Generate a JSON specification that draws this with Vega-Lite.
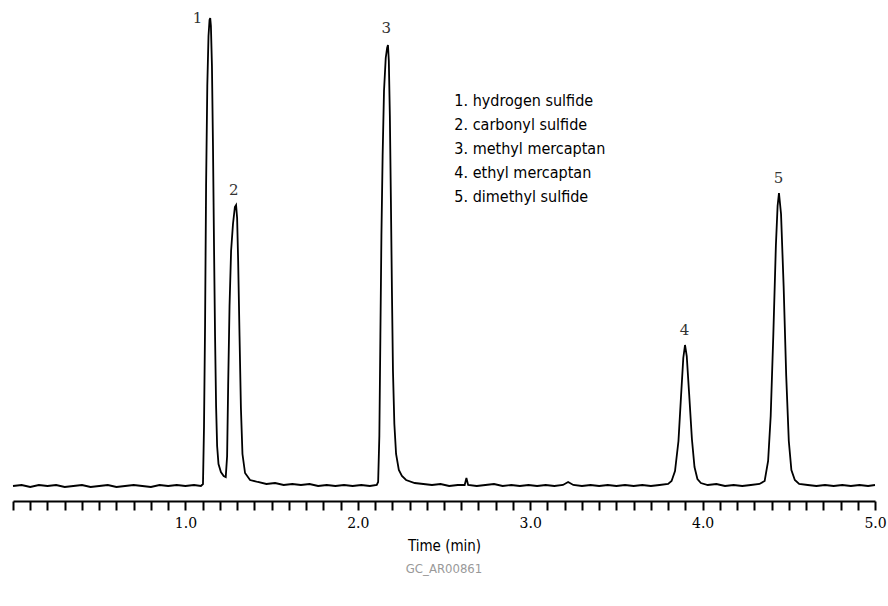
{
  "$schema": "https://vega.github.io/schema/vega-lite/v6.json",
  "autosize": "none",
  "width": 862,
  "height": 501,
  "padding": {"left": 13, "top": 0, "right": 13, "bottom": 105},
  "background": "white",
  "config": {"view": {"stroke": null}},
  "layer": [
    {
      "data": {"values": [
        {"t": 0.0, "h": 0}, {"t": 0.05, "h": 1}, {"t": 0.1, "h": -1}, {"t": 0.15, "h": 1}, {"t": 0.2, "h": 0},
        {"t": 0.25, "h": 1}, {"t": 0.3, "h": -1}, {"t": 0.35, "h": 0}, {"t": 0.4, "h": 1}, {"t": 0.45, "h": -1},
        {"t": 0.5, "h": 0}, {"t": 0.55, "h": 1}, {"t": 0.6, "h": -1}, {"t": 0.65, "h": 0}, {"t": 0.7, "h": 1},
        {"t": 0.75, "h": 0}, {"t": 0.8, "h": -1}, {"t": 0.85, "h": 1}, {"t": 0.9, "h": 0}, {"t": 0.95, "h": 1},
        {"t": 1.0, "h": 0}, {"t": 1.05, "h": 1}, {"t": 1.09, "h": 0}, {"t": 1.102, "h": 2},
        {"t": 1.108, "h": 60}, {"t": 1.114, "h": 160}, {"t": 1.12, "h": 300}, {"t": 1.127, "h": 400},
        {"t": 1.134, "h": 450}, {"t": 1.14, "h": 466}, {"t": 1.144, "h": 468}, {"t": 1.148, "h": 460},
        {"t": 1.154, "h": 420}, {"t": 1.16, "h": 340}, {"t": 1.166, "h": 240}, {"t": 1.172, "h": 150},
        {"t": 1.178, "h": 80}, {"t": 1.184, "h": 40}, {"t": 1.192, "h": 22}, {"t": 1.206, "h": 14},
        {"t": 1.222, "h": 10}, {"t": 1.234, "h": 9}, {"t": 1.242, "h": 30}, {"t": 1.248, "h": 100},
        {"t": 1.256, "h": 180}, {"t": 1.265, "h": 235}, {"t": 1.276, "h": 262}, {"t": 1.287, "h": 279},
        {"t": 1.294, "h": 281}, {"t": 1.3, "h": 268}, {"t": 1.306, "h": 225}, {"t": 1.314, "h": 150},
        {"t": 1.322, "h": 78}, {"t": 1.331, "h": 32}, {"t": 1.346, "h": 13}, {"t": 1.375, "h": 6},
        {"t": 1.42, "h": 4}, {"t": 1.47, "h": 2}, {"t": 1.52, "h": 3}, {"t": 1.57, "h": 1}, {"t": 1.62, "h": 2},
        {"t": 1.67, "h": 1}, {"t": 1.72, "h": 2}, {"t": 1.77, "h": 0}, {"t": 1.82, "h": 1}, {"t": 1.87, "h": 0},
        {"t": 1.92, "h": 1}, {"t": 1.97, "h": 0}, {"t": 2.02, "h": 1}, {"t": 2.07, "h": 0}, {"t": 2.11, "h": 1},
        {"t": 2.118, "h": 4}, {"t": 2.125, "h": 50}, {"t": 2.131, "h": 150}, {"t": 2.137, "h": 250},
        {"t": 2.144, "h": 330}, {"t": 2.152, "h": 395}, {"t": 2.162, "h": 428}, {"t": 2.17, "h": 438},
        {"t": 2.175, "h": 441}, {"t": 2.18, "h": 425}, {"t": 2.186, "h": 370}, {"t": 2.192, "h": 285},
        {"t": 2.198, "h": 195}, {"t": 2.204, "h": 115}, {"t": 2.212, "h": 62}, {"t": 2.222, "h": 32},
        {"t": 2.238, "h": 16}, {"t": 2.256, "h": 10}, {"t": 2.28, "h": 6}, {"t": 2.33, "h": 3},
        {"t": 2.38, "h": 2}, {"t": 2.43, "h": 1}, {"t": 2.48, "h": 2}, {"t": 2.53, "h": 0}, {"t": 2.58, "h": 1},
        {"t": 2.62, "h": 1}, {"t": 2.63, "h": 8}, {"t": 2.64, "h": 1}, {"t": 2.69, "h": 0}, {"t": 2.74, "h": 1},
        {"t": 2.79, "h": 2}, {"t": 2.84, "h": 0}, {"t": 2.89, "h": 1}, {"t": 2.94, "h": 0}, {"t": 2.99, "h": 1},
        {"t": 3.04, "h": 0}, {"t": 3.09, "h": 1}, {"t": 3.14, "h": 0}, {"t": 3.19, "h": 1}, {"t": 3.22, "h": 4},
        {"t": 3.25, "h": 1}, {"t": 3.3, "h": 0}, {"t": 3.35, "h": 1}, {"t": 3.4, "h": 0}, {"t": 3.45, "h": 1},
        {"t": 3.5, "h": 0}, {"t": 3.55, "h": 1}, {"t": 3.6, "h": 0}, {"t": 3.65, "h": 1}, {"t": 3.7, "h": 0},
        {"t": 3.75, "h": 1}, {"t": 3.8, "h": 2}, {"t": 3.82, "h": 5}, {"t": 3.84, "h": 15}, {"t": 3.86, "h": 45},
        {"t": 3.875, "h": 90}, {"t": 3.888, "h": 128}, {"t": 3.898, "h": 141}, {"t": 3.908, "h": 130},
        {"t": 3.922, "h": 92}, {"t": 3.938, "h": 47}, {"t": 3.953, "h": 19}, {"t": 3.97, "h": 7},
        {"t": 3.99, "h": 3}, {"t": 4.03, "h": 1}, {"t": 4.08, "h": 2}, {"t": 4.13, "h": 0}, {"t": 4.18, "h": 1},
        {"t": 4.23, "h": 0}, {"t": 4.28, "h": 1}, {"t": 4.33, "h": 2}, {"t": 4.36, "h": 5}, {"t": 4.38, "h": 25},
        {"t": 4.395, "h": 70}, {"t": 4.41, "h": 150}, {"t": 4.425, "h": 240}, {"t": 4.435, "h": 280},
        {"t": 4.443, "h": 293}, {"t": 4.455, "h": 272}, {"t": 4.47, "h": 200}, {"t": 4.485, "h": 110},
        {"t": 4.5, "h": 45}, {"t": 4.515, "h": 16}, {"t": 4.535, "h": 6}, {"t": 4.56, "h": 2},
        {"t": 4.61, "h": 1}, {"t": 4.66, "h": 0}, {"t": 4.71, "h": 1}, {"t": 4.76, "h": 0}, {"t": 4.81, "h": 1},
        {"t": 4.86, "h": 0}, {"t": 4.91, "h": 1}, {"t": 4.96, "h": 0}, {"t": 5.0, "h": 1}
      ]},
      "mark": {"type": "line", "color": "black", "strokeWidth": 1.8},
      "encoding": {
        "x": {"field": "t", "type": "quantitative",
          "scale": {"domain": [0, 5], "nice": false},
          "axis": {
            "title": "Time (min)", "titleFont": "DejaVu Sans Condensed", "titleFontSize": 15,
            "titleFontWeight": "normal", "titleColor": "black", "titlePadding": 8,
            "tickCount": 100,
            "values": [0,0.1,0.2,0.3,0.4,0.5,0.6,0.7,0.8,0.9,1,1.1,1.2,1.3,1.4,1.5,1.6,1.7,1.8,1.9,2,2.1,2.2,2.3,2.4,2.5,2.6,2.7,2.8,2.9,3,3.1,3.2,3.3,3.4,3.5,3.6,3.7,3.8,3.9,4,4.1,4.2,4.3,4.4,4.5,4.6,4.7,4.8,4.9,5],
            "labelExpr": "datum.value >= 0.99 && abs(datum.value - round(datum.value)) < 0.01 ? format(datum.value, '.1f') : ''",
            "labelOverlap": false, "labelBound": false, "labelFlush": false,
            "labelFont": "DejaVu Serif", "labelFontSize": 14, "labelColor": "black", "labelPadding": 6,
            "domainColor": "black", "domainWidth": 2, "tickColor": "black", "tickWidth": 2, "tickSize": 9,
            "grid": false,
            "encode": {"ticks": {"update": {"y2": {"signal": "abs(datum.value - round(datum.value)) < 0.01 ? 16 : 9"}}}}
          }},
        "y": {"field": "h", "type": "quantitative", "scale": {"domain": [-15, 486], "nice": false, "zero": false}, "axis": null}
      }
    },
    {
      "data": {"values": [
        {"t": 1.07, "h": 460, "label": "1"},
        {"t": 1.28, "h": 288, "label": "2"},
        {"t": 2.165, "h": 450, "label": "3"},
        {"t": 3.895, "h": 148, "label": "4"},
        {"t": 4.44, "h": 300, "label": "5"}
      ]},
      "mark": {"type": "text", "font": "DejaVu Serif", "fontSize": 15, "baseline": "bottom", "color": "#333"},
      "encoding": {
        "x": {"field": "t", "type": "quantitative"},
        "y": {"field": "h", "type": "quantitative"},
        "text": {"field": "label"}
      }
    },
    {
      "data": {"values": [
        {"t": 2.56, "h": 385, "label": "1. hydrogen sulfide"},
        {"t": 2.56, "h": 361, "label": "2. carbonyl sulfide"},
        {"t": 2.56, "h": 337, "label": "3. methyl mercaptan"},
        {"t": 2.56, "h": 313, "label": "4. ethyl mercaptan"},
        {"t": 2.56, "h": 289, "label": "5. dimethyl sulfide"}
      ]},
      "mark": {"type": "text", "font": "DejaVu Sans Condensed", "fontSize": 16, "align": "left", "baseline": "middle", "color": "black"},
      "encoding": {
        "x": {"field": "t", "type": "quantitative"},
        "y": {"field": "h", "type": "quantitative"},
        "text": {"field": "label"}
      }
    }
  ],
  "title": {"text": "GC_AR00861", "orient": "bottom", "anchor": "middle", "font": "DejaVu Sans Condensed", "fontSize": 13, "fontWeight": "normal", "color": "#999", "offset": 10}
}
